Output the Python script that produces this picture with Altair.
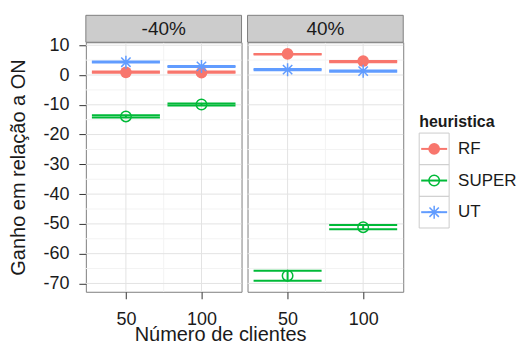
import json
import altair as alt
import pandas as pd

# ---------------- data ----------------
variacao = ["-40%"] * 6 + ["40%"] * 6
clientes = ["50", "50", "50", "100", "100", "100", "50", "50", "50", "100", "100", "100"]
heuristica = ["RF", "SUPER", "UT"] * 4
ganho = [0.9, -13.9, 4.3, 0.8, -9.9, 2.9, 7.1, -67.4, 1.8, 4.7, -51.1, 1.3]
ganho_min = [0.8, -14.3, 4.2, 0.8, -10.2, 2.7, 6.9, -69.1, 1.6, 4.3, -51.8, 1.1]
ganho_max = [1.2, -13.5, 4.5, 1.2, -9.6, 3.0, 7.1, -65.7, 2.0, 4.7, -50.4, 1.5]

categorias = ["50", "100"]
paineis = ["-40%", "40%"]
series = ["RF", "SUPER", "UT"]
cores = ["#F8766D", "#00BA38", "#619CFF"]
y_major = [-70, -60, -50, -40, -30, -20, -10, 0, 10]
y_minor = [-65, -55, -45, -35, -25, -15, -5, 5]
x_major = [1, 2]
x_minor = [1.5]

df = pd.DataFrame({
    "variacao": variacao, "clientes": clientes, "heuristica": heuristica,
    "ganho": ganho, "lo": ganho_min, "hi": ganho_max,
})

W, H = 156, 250
FONT = "Liberation Sans"
TXT = "#1a1a1a"
xs = alt.Scale(domain=[0.47, 2.53], nice=False, zero=False)
ys = alt.Scale(domain=[-72.8, 11.0], nice=False, zero=False)
cscale = alt.Scale(domain=series, range=cores)
ASTER = "M-1,0L1,0M0,-1L0,1M-0.72,-0.72L0.72,0.72M-0.72,0.72L0.72,-0.72"

x_axis = alt.Axis(values=x_major, labelExpr=f"{json.dumps(categorias)}[datum.value - 1]",
                  title=None, grid=False, domain=False, tickSize=7, tickColor="#333333",
                  labelFontSize=18, labelColor=TXT, labelPadding=12, labelFont=FONT)


def y_axis(first):
    if not first:
        return None
    return alt.Axis(values=y_major, labelExpr="toString(datum.value)",
                    title="Ganho em relação a ON", grid=False, domain=False,
                    tickSize=7, tickColor="#333333", labelFontSize=18, labelColor=TXT,
                    labelPadding=10, labelFont=FONT, titleFont=FONT, titleFontSize=20,
                    titleFontWeight="normal", titleColor=TXT, titleX=-67, titleY=H / 2,
                    titleAngle=270, titleBaseline="middle")


def X(field):
    return alt.X(field, type="quantitative", scale=xs, axis=x_axis)


def Y(field, first):
    return alt.Y(field, type="quantitative", scale=ys, axis=y_axis(first))


def panel(nome, first):
    layers = []
    # grid
    layers.append(alt.Chart(pd.DataFrame({"v": y_minor})).mark_rule(color="#F3F3F3", strokeWidth=1)
                  .encode(y=Y("v", first), x=alt.value(0), x2=alt.value(W)))
    layers.append(alt.Chart(pd.DataFrame({"v": x_minor})).mark_rule(color="#F3F3F3", strokeWidth=1)
                  .encode(x=X("v"), y=alt.value(0), y2=alt.value(H)))
    layers.append(alt.Chart(pd.DataFrame({"v": y_major})).mark_rule(color="#E3E3E3", strokeWidth=1)
                  .encode(y=Y("v", first), x=alt.value(0), x2=alt.value(W)))
    layers.append(alt.Chart(pd.DataFrame({"v": x_major})).mark_rule(color="#E3E3E3", strokeWidth=1)
                  .encode(x=X("v"), y=alt.value(0), y2=alt.value(H)))
    # strip
    sdf = pd.DataFrame({"painel": [nome]})
    layers.append(alt.Chart(sdf).mark_rect(fill="#CCCCCC", stroke="#7F7F7F", strokeWidth=1)
                  .encode(x=alt.value(0), x2=alt.value(W), y=alt.value(-27), y2=alt.value(0)))
    layers.append(alt.Chart(sdf).mark_text(fontSize=19, color=TXT, font=FONT, baseline="middle")
                  .encode(x=alt.value(W / 2), y=alt.value(-13), text="painel:N"))

    base = (alt.Chart(df)
            .transform_filter(alt.datum.variacao == nome)
            .transform_calculate(xi=f"indexof({json.dumps(categorias)}, datum.clientes) + 1")
            .transform_calculate(xl="datum.xi - 0.45", xr="datum.xi + 0.45"))
    col = alt.Color("heuristica:N", scale=cscale, legend=None)
    layers.append(base.mark_rule(strokeWidth=2).encode(x=X("xl"), x2="xr:Q", y=Y("hi", first), color=col))
    layers.append(base.mark_rule(strokeWidth=2).encode(x=X("xl"), x2="xr:Q", y=Y("lo", first), color=col))
    layers.append(base.mark_rule(strokeWidth=2).encode(x=X("xi"), y=Y("lo", first), y2="hi:Q", color=col))

    layers.append(base.transform_filter(alt.datum.heuristica == "RF")
                  .mark_point(filled=True, shape="circle", size=137, color=cores[0], opacity=1)
                  .encode(x=X("xi"), y=Y("ganho", first)))
    layers.append(base.transform_filter(alt.datum.heuristica == "SUPER")
                  .mark_point(filled=False, shape="circle", size=110, strokeWidth=1.5, color=cores[1], opacity=1)
                  .encode(x=X("xi"), y=Y("ganho", first)))
    layers.append(base.transform_filter(alt.datum.heuristica == "UT")
                  .mark_point(filled=False, shape=ASTER, size=170, strokeWidth=1.5, color=cores[2], opacity=1)
                  .encode(x=X("xi"), y=Y("ganho", first)))

    if first:
        layers.append(alt.Chart(pd.DataFrame({"t": ["Número de clientes"]}))
                      .mark_text(fontSize=20, color=TXT, font=FONT, align="center", baseline="alphabetic")
                      .encode(x=alt.value(135), y=alt.value(299), text="t:N"))
    else:
        lx = 172
        layers.append(alt.Chart(pd.DataFrame({"t": ["heuristica"]}))
                      .mark_text(fontSize=16, fontWeight="bold", color=TXT, font=FONT, align="left",
                                 baseline="alphabetic")
                      .encode(x=alt.value(lx), y=alt.value(85), text="t:N"))
        for i, (s, c) in enumerate(zip(series, cores)):
            top = 91 + 31.7 * i
            cy = top + 15.85
            ld = pd.DataFrame({"h": [s]})
            layers.append(alt.Chart(ld).mark_rect(fill="white", stroke="#CCCCCC", strokeWidth=1)
                          .encode(x=alt.value(lx), x2=alt.value(lx + 30), y=alt.value(top), y2=alt.value(top + 31.7)))
            layers.append(alt.Chart(ld).mark_rule(color=c, strokeWidth=2)
                          .encode(x=alt.value(lx + 2), x2=alt.value(lx + 28), y=alt.value(cy)))
            if s == "RF":
                pm = alt.Chart(ld).mark_point(filled=True, shape="circle", size=137, color=c, opacity=1)
            elif s == "SUPER":
                pm = alt.Chart(ld).mark_point(filled=False, shape="circle", size=110, strokeWidth=1.5, color=c, opacity=1)
            else:
                pm = alt.Chart(ld).mark_point(filled=False, shape=ASTER, size=170, strokeWidth=1.5, color=c, opacity=1)
            layers.append(pm.encode(x=alt.value(lx + 15), y=alt.value(cy)))
            layers.append(alt.Chart(ld).mark_text(fontSize=17, color=TXT, font=FONT, align="left", baseline="middle")
                          .encode(x=alt.value(lx + 39), y=alt.value(cy), text="h:N"))

    return alt.layer(*layers).properties(width=W, height=H)


chart = (alt.hconcat(panel(paineis[0], True), panel(paineis[1], False), spacing=6, bounds="flush")
         .properties(padding={"left": 0, "top": 6, "right": 0, "bottom": 0})
         .configure(font=FONT)
         .configure_view(stroke="#7F7F7F", strokeWidth=1))

chart.save("out.html", embed_options={"renderer": "svg", "actions": False})
